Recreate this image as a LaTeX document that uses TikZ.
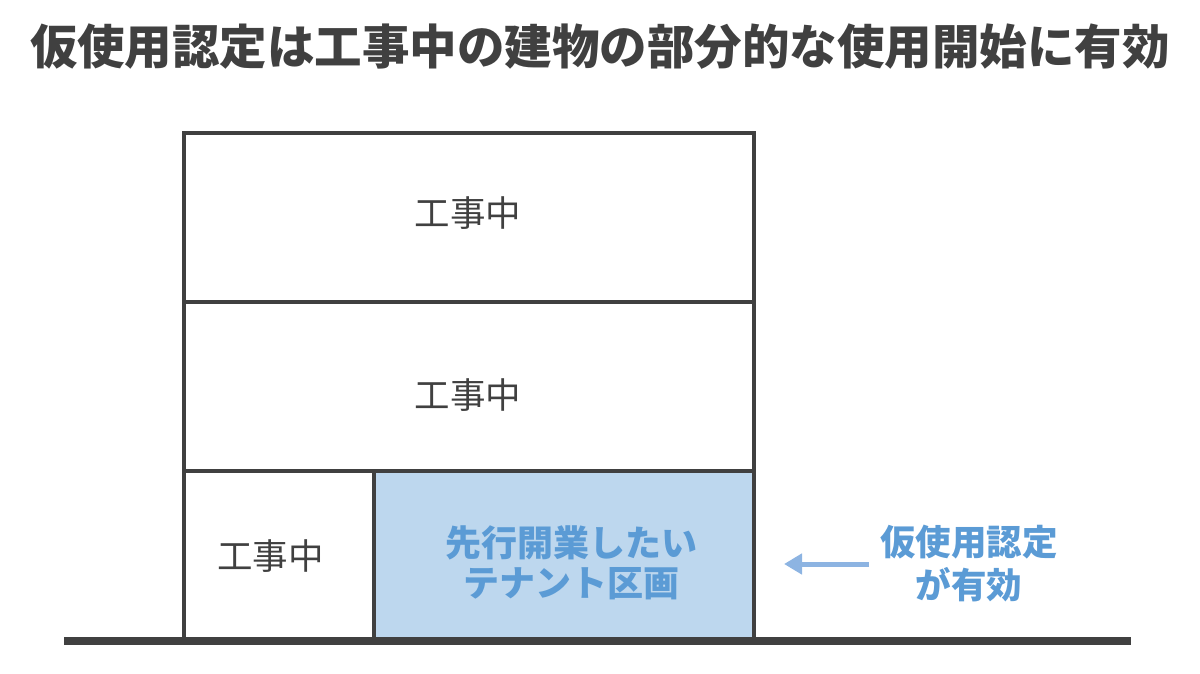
\documentclass[tikz,border=0pt]{standalone}
\usepackage{fontspec}
\setmainfont{Noto Sans CJK JP}
\usetikzlibrary{arrows.meta}
\definecolor{ink}{HTML}{404040}
\definecolor{tenant}{HTML}{BDD7EE}
\definecolor{bluetxt}{HTML}{5B9BD5}
\definecolor{arrowc}{HTML}{8DB4E2}
\tikzset{
  floor/.style={draw=ink, line width=4pt, rectangle, inner sep=0pt},
  floortxt/.style={text=ink, inner sep=0pt, font=\fontsize{35.5}{40}\selectfont},
  bluelbl/.style={align=center, text=bluetxt, inner sep=0pt, font=\bfseries\fontsize{36}{40}\selectfont},
  sidelbl/.style={align=center, text=bluetxt, inner sep=0pt, font=\bfseries\fontsize{35.5}{43}\selectfont},
  ground/.style={draw=ink, line width=8pt},
  pointer/.style={draw=arrowc, line width=5pt, -{Triangle[length=18pt,width=20pt]}}
}
\begin{document}
\begin{tikzpicture}[x=1pt,y=-1pt]
\useasboundingbox (0,0) rectangle (1200,674);
\node[text=ink, font=\bfseries\fontsize{47.5}{52}\selectfont] (title) at (600,47) {仮使用認定は工事中の建物の部分的な使用開始に有効};
\node[floor, minimum width=570pt, minimum height=169pt] (f3) at (469,217.5) {};
\node[floor, minimum width=570pt, minimum height=169pt] (f2) at (469,386.5) {};
\node[floor, minimum width=190pt, minimum height=169pt] (f1a) at (279,555.5) {};
\node[floor, fill=tenant, minimum width=380pt, minimum height=169pt] (f1b) at (564,555.5) {};
\node[floortxt] (t3) at (468,213) {工事中};
\node[floortxt] (t2) at (468,395) {工事中};
\node[floortxt] (t1) at (270.5,556) {工事中};
\node[bluelbl] (tenanttxt) at (571.5,563) {先行開業したい\\テナント区画};
\coordinate (gl) at (64,641);
\coordinate (gr) at (1131,641);
\draw[ground] (gl) -- (gr);
\node[sidelbl] (side) at (969,563.5) {仮使用認定\\が有効};
\coordinate (atail) at (869,564);
\coordinate (atip) at (784,564);
\draw[pointer] (atail) -- (atip);
\end{tikzpicture}
\end{document}
